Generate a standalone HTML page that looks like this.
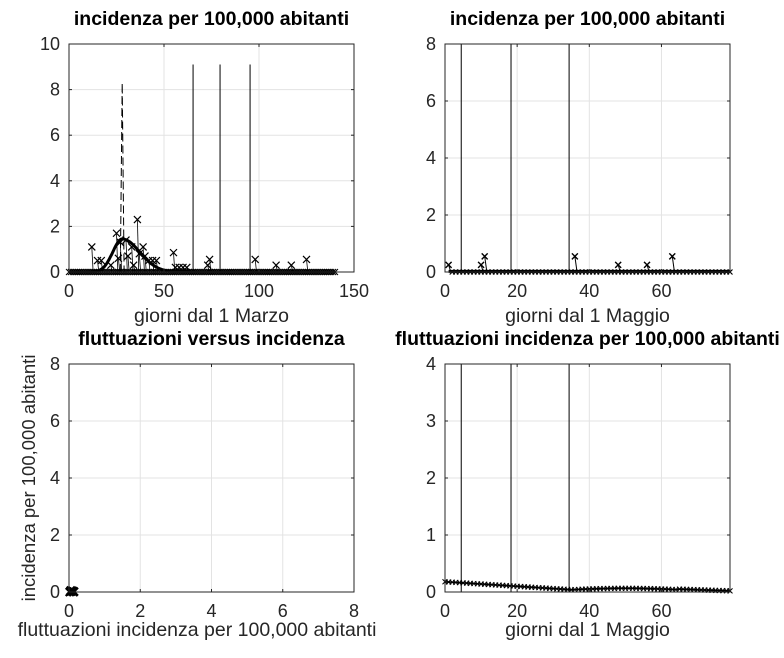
<!DOCTYPE html>
<html><head><meta charset="utf-8"><style>
body{margin:0;background:#fff}
svg{display:block;font-family:"Liberation Sans",sans-serif}
</style></head><body>
<svg id="s" width="784" height="658" viewBox="0 0 784 658" xmlns="http://www.w3.org/2000/svg"></svg>
<script>
const S=document.getElementById('s');let out='';
function ax(x0,y0,w,h,xmax,ymax,xt,yt,title,xl,yl,body,xlx,xly){
 const X=v=>x0+v/xmax*w, Y=v=>y0+h-v/ymax*h;
 let g='';
 xt.forEach(v=>{if(v>0&&v<xmax)g+=`<line x1="${X(v)}" y1="${y0}" x2="${X(v)}" y2="${y0+h}" stroke="#e3e3e3"/>`});
 yt.forEach(v=>{if(v>0&&v<ymax)g+=`<line x1="${x0}" y1="${Y(v)}" x2="${x0+w}" y2="${Y(v)}" stroke="#e3e3e3"/>`});
 g+=body(X,Y);
 g+=`<rect x="${x0}" y="${y0}" width="${w}" height="${h}" fill="none" stroke="#262626" stroke-width="1"/>`;
 xt.forEach(v=>{g+=`<line x1="${X(v)}" y1="${y0+h}" x2="${X(v)}" y2="${y0+h-3}" stroke="#262626"/><line x1="${X(v)}" y1="${y0}" x2="${X(v)}" y2="${y0+3}" stroke="#262626"/><text x="${X(v)}" y="${y0+h+25}" font-size="18" text-anchor="middle" fill="#262626">${v}</text>`});
 yt.forEach(v=>{g+=`<line x1="${x0}" y1="${Y(v)}" x2="${x0+3}" y2="${Y(v)}" stroke="#262626"/><line x1="${x0+w}" y1="${Y(v)}" x2="${x0+w-3}" y2="${Y(v)}" stroke="#262626"/><text x="${x0-9}" y="${Y(v)+6}" font-size="18" text-anchor="end" fill="#262626">${v}</text>`});
 g+=`<text x="${x0+w/2}" y="${y0-19}" font-size="19.5" font-weight="bold" text-anchor="middle">${title}</text>`;
 if(xl)g+=`<text x="${xlx||x0+w/2}" y="${xly||y0+h+50}" font-size="19.5" text-anchor="middle" fill="#262626">${xl}</text>`;
 if(yl)g+=`<text transform="translate(${x0-34},${y0+h/2}) rotate(-90)" font-size="18.5" text-anchor="middle" fill="#262626">${yl}</text>`;
 out+=g;
}
function mk(x,y,s=3.5,w=1.2){return `<path d="M${x-s} ${y-s}L${x+s} ${y+s}M${x-s} ${y+s}L${x+s} ${y-s}" stroke="#000" stroke-width="${w}"/>`}
ax(69,44,285,228,150,10,[0,50,100,150],[0,2,4,6,8,10],'incidenza per 100,000 abitanti','giorni dal 1 Marzo','',(X,Y)=>{
 let g='';
 [65.3,79.5,95.3].forEach(d=>g+=`<line x1="${X(d)}" y1="${Y(9.1)}" x2="${X(d)}" y2="${Y(0)}" stroke="#000" stroke-width="1"/>`);
 g+=`<path d="M${X(27)} ${Y(0)}L${X(28)} ${Y(8.3)}L${X(29)} ${Y(0)}" fill="none" stroke="#000" stroke-dasharray="8,4"/>`;
 const pts=[[12,1.1],[15,0.5],[17,0.5],[22,0.3],[25,1.7],[26,0.6],[27,1.3],[30,1.4],[31,0.7],[33,1.1],[34,0.3],[36,2.3],[37,0.8],[39,1.1],[40,0.7],[42,0.5],[44,0.5],[46,0.5],[55,0.85],[56,0.2],[58,0.2],[60,0.2],[62,0.2],[73,0.3],[74,0.55],[98,0.55],[109,0.3],[117,0.3],[125,0.55]];
 pts.forEach(p=>{g+=`<line x1="${X(p[0])}" y1="${Y(p[1])}" x2="${X(p[0]+0.7)}" y2="${Y(0)}" stroke="#000" stroke-width="0.8"/>`+mk(X(p[0]),Y(p[1]))});
 for(let d=0;d<=140;d++)g+=mk(X(d),Y(0),3,1);
 let c='';for(let d=0;d<=140;d+=0.5){let v=d<=28?1.45*Math.exp(-Math.pow((d-28)/7,2)):1.45*Math.exp(-Math.pow((d-28)/13,2));c+=(c?'L':'M')+X(d).toFixed(1)+' '+Y(v).toFixed(1)}
 g+=`<path d="${c}" fill="none" stroke="#000" stroke-width="3"/>`;
 return g;});
ax(445,44,285,228,79,8,[0,20,40,60],[0,2,4,6,8],'incidenza per 100,000 abitanti','giorni dal 1 Maggio','',(X,Y)=>{
 let g='';
 [4.5,18.3,34.4].forEach(d=>g+=`<line x1="${X(d)}" y1="${Y(8)}" x2="${X(d)}" y2="${Y(0)}" stroke="#000"/>`);
 [[1,0.25],[10,0.25],[11,0.55],[36,0.55],[48,0.25],[56,0.25],[63,0.55]].forEach(p=>{g+=`<line x1="${X(p[0])}" y1="${Y(p[1])}" x2="${X(p[0]+0.6)}" y2="${Y(0)}" stroke="#000" stroke-width="1"/>`+mk(X(p[0]),Y(p[1]),3,1.4)});
 g+=`<line x1="${X(1)}" y1="${Y(0.02)}" x2="${X(79)}" y2="${Y(0.02)}" stroke="#000" stroke-width="3"/>`;
 for(let d=2;d<=79;d++)g+=mk(X(d),Y(0),2.5,1.2);
 return g;});
ax(69,364,285,228,8,8,[0,2,4,6,8],[0,2,4,6,8],'fluttuazioni versus incidenza','fluttuazioni incidenza per 100,000 abitanti','incidenza per 100,000 abitanti',(X,Y)=>{
 let g='';[[0.02,0.0],[0.06,0.02],[0.1,0.04],[0.14,0.01],[0.05,0.05],[0.12,0.0]].forEach(p=>g+=mk(X(p[0]),Y(p[1]),4,2.2));return g;},197,636);
ax(445,364,285,228,79,4,[0,20,40,60],[0,1,2,3,4],'fluttuazioni incidenza per 100,000 abitanti','giorni dal 1 Maggio','',(X,Y)=>{
 let g='';
 [4.5,18.3,34.4].forEach(d=>g+=`<line x1="${X(d)}" y1="${Y(4)}" x2="${X(d)}" y2="${Y(0)}" stroke="#000"/>`);
 const f=d=>d<35?0.18-0.14*d/35:(d<65?0.04+0.025*Math.sin((d-35)/30*Math.PI):0.05-0.03*(d-65)/14);
 let c='';for(let d=0;d<=79;d++){c+=(c?'L':'M')+X(d).toFixed(1)+' '+Y(f(d)).toFixed(1);g+=mk(X(d),Y(f(d)),2.5,1)}
 g+=`<path d="${c}" fill="none" stroke="#000" stroke-width="1.5"/>`;return g;},null,636);
S.innerHTML=out;
</script>
</body></html>
